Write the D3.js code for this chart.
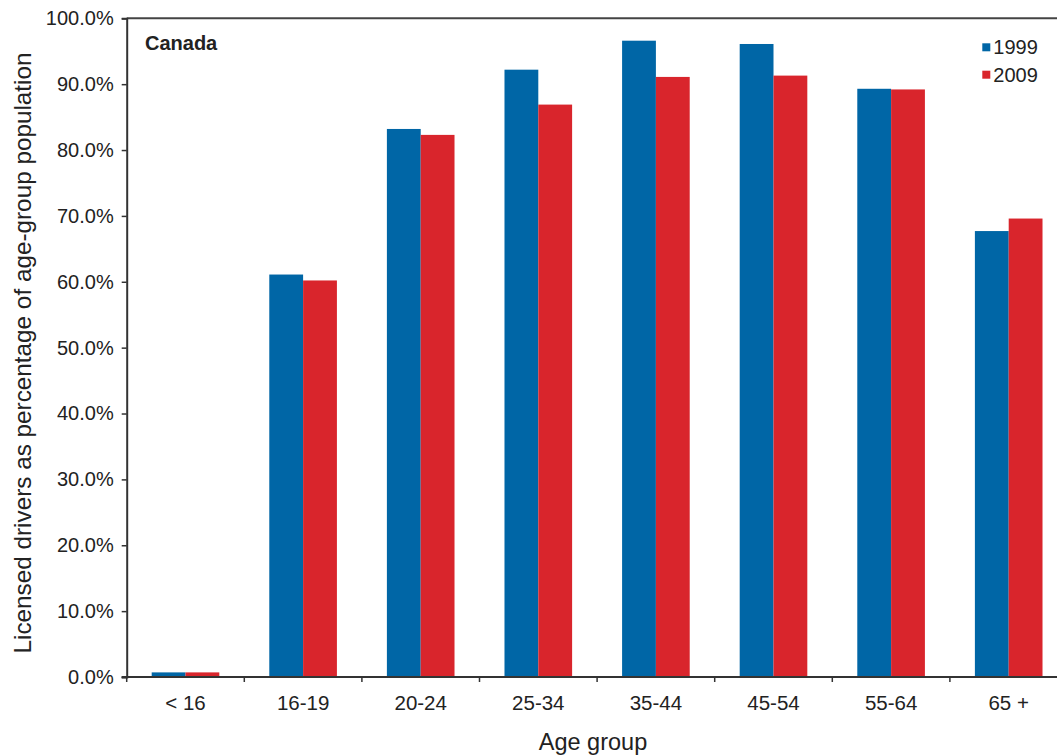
<!DOCTYPE html>
<html>
<head>
<meta charset="utf-8">
<script src="https://cdn.jsdelivr.net/npm/d3@7/dist/d3.min.js"></script>
<style>
  html, body { margin: 0; padding: 0; background: #fff; }
  svg { display: block; font-family: "Liberation Sans", Arial, sans-serif; }
</style>
</head>
<body>
<svg id="chart" width="1057" height="756"></svg>
<script>
const categories = ["< 16", "16-19", "20-24", "25-34", "35-44", "45-54", "55-64", "65 +"];
const seriesNames = ["1999", "2009"];
const values1999 = [0.7, 61.1, 83.2, 92.2, 96.6, 96.1, 89.3, 67.7];
const values2009 = [0.7, 60.2, 82.3, 86.9, 91.1, 91.3, 89.2, 69.6];
const yTicks = [0, 10, 20, 30, 40, 50, 60, 70, 80, 90, 100];
const colors = ["#0066A6", "#D9252C"];

const svg = d3.select("#chart");
const margin = { left: 126.7, top: 18.3, bottom: 677 };
const plotRight = margin.left + 8 * 117.6;

const x = d3.scaleBand().domain(categories).range([margin.left, plotRight]).paddingInner(0).paddingOuter(0);
const groupW = x.bandwidth() * 0.575;
const x1 = d3.scaleBand().domain(seriesNames).range([0, groupW]).padding(0);
const y = d3.scaleLinear().domain([0, 100]).range([margin.bottom, margin.top]);

const axisColor = "#333";
const textColor = "#222";

// bars
const data = categories.map((c, i) => ({ cat: c, vals: [values1999[i], values2009[i]] }));
const g = svg.append("g");
data.forEach(d => {
  d.vals.forEach((v, j) => {
    g.append("rect")
      .attr("x", x(d.cat) + (x.bandwidth() - groupW) / 2 + x1(seriesNames[j]))
      .attr("y", y(v))
      .attr("width", x1.bandwidth())
      .attr("height", y(0) - y(v))
      .attr("fill", colors[j]);
  });
});

// top frame line
svg.append("line")
  .attr("x1", margin.left).attr("x2", plotRight)
  .attr("y1", y(100)).attr("y2", y(100))
  .attr("stroke", "#444").attr("stroke-width", 2);

// y axis
const yAxis = d3.axisLeft(y).tickValues(yTicks).tickSize(5).tickPadding(8)
  .tickFormat(d => d3.format(".1f")(d) + "%");
const yg = svg.append("g").attr("transform", `translate(${margin.left},0)`).call(yAxis);
yg.select(".domain").attr("stroke", axisColor).attr("stroke-width", 2);
yg.selectAll(".tick line").attr("stroke", axisColor).attr("stroke-width", 1.5);
yg.selectAll(".tick text").attr("fill", textColor).style("font-size", "20px")
  .style("font-family", '"Liberation Sans", Arial, sans-serif');

// x axis (labels)
const xAxis = d3.axisBottom(x).tickSize(0).tickPadding(18);
const xg = svg.append("g").attr("transform", `translate(0,${margin.bottom})`).call(xAxis);
xg.select(".domain").remove();
xg.selectAll(".tick text").attr("fill", textColor).style("font-size", "20.5px")
  .style("font-family", '"Liberation Sans", Arial, sans-serif');

// x axis line and boundary ticks
svg.append("line")
  .attr("x1", margin.left - 5).attr("x2", plotRight)
  .attr("y1", y(0)).attr("y2", y(0))
  .attr("stroke", axisColor).attr("stroke-width", 2);
const boundaries = categories.map(c => x(c)).concat([x(categories[categories.length - 1]) + x.bandwidth()]);
svg.append("g").selectAll("line").data(boundaries).join("line")
  .attr("x1", d => d).attr("x2", d => d)
  .attr("y1", y(0)).attr("y2", y(0) + 5)
  .attr("stroke", axisColor).attr("stroke-width", 1.5);

// title inside
svg.append("text").attr("x", 145).attr("y", 49.5)
  .attr("fill", textColor).style("font-size", "20px").style("font-weight", "bold")
  .text("Canada");

// legend
const leg = svg.append("g");
seriesNames.forEach((s, i) => {
  const ly = 54.3 + i * 27.4;
  leg.append("rect").attr("x", 982.3).attr("y", ly - 11).attr("width", 8).attr("height", 8).attr("fill", colors[i]);
  leg.append("text").attr("x", 993.3).attr("y", ly).attr("fill", textColor)
    .style("font-size", "20px").text(s);
});

// axis titles
svg.append("text").attr("x", 593).attr("y", 750).attr("text-anchor", "middle")
  .attr("fill", textColor).style("font-size", "23.5px").text("Age group");
svg.append("text").attr("transform", "translate(31,353) rotate(-90)").attr("text-anchor", "middle")
  .attr("fill", textColor).style("font-size", "24.3px")
  .text("Licensed drivers as percentage of age-group population");
</script>
</body>
</html>
